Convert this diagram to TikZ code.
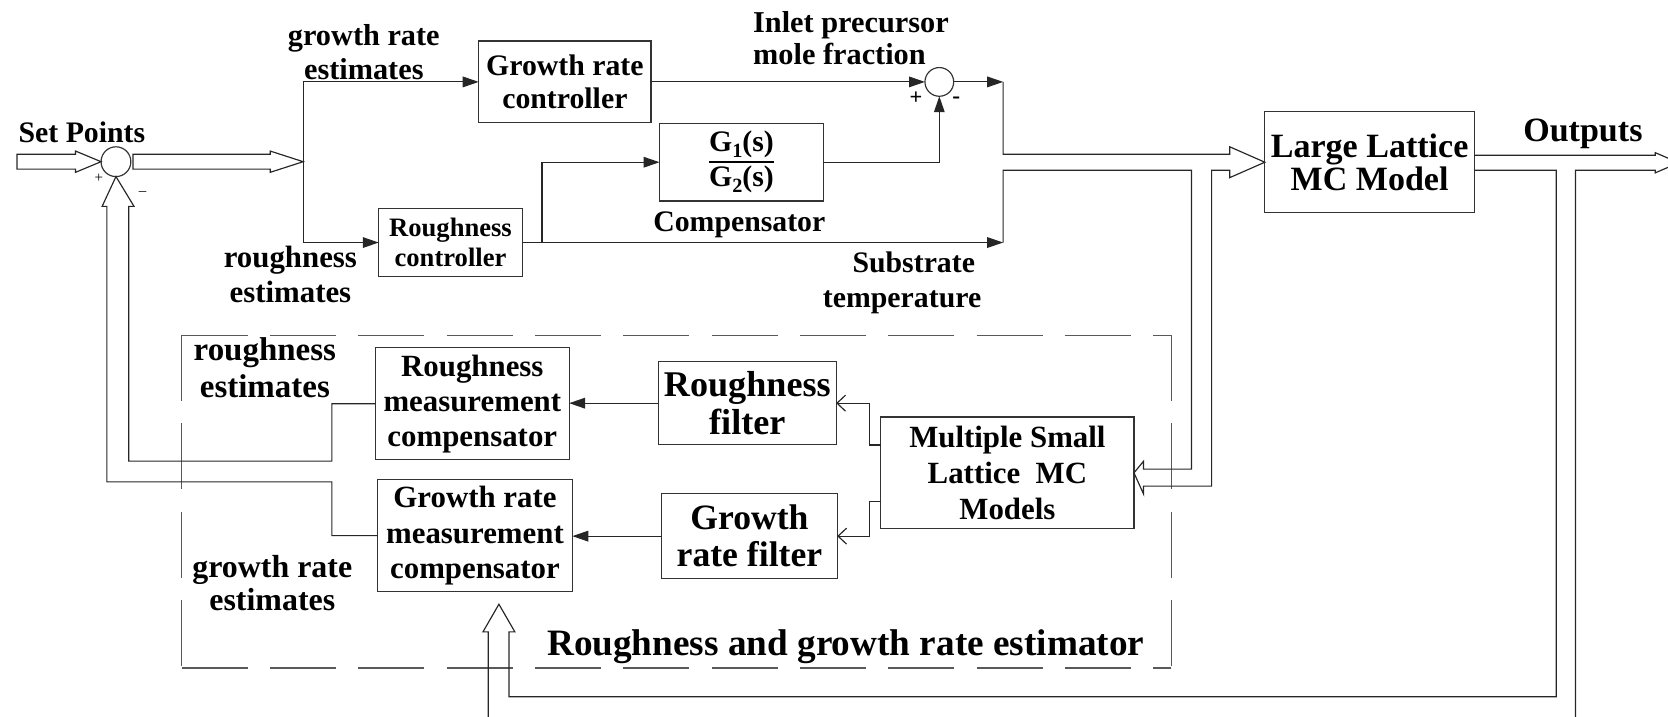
\documentclass[tikz,border=0pt]{standalone}
\usepackage{fontspec}
\setmainfont{Liberation Serif}
\usetikzlibrary{arrows.meta,calc}
\newcommand{\myfs}[2]{\fontsize{#1pt}{#2pt}\selectfont\bfseries}
\newcommand{\subn}[1]{\raisebox{-6pt}{\fontsize{19pt}{19pt}\selectfont #1}}
\begin{document}
\begin{tikzpicture}[x=1pt,y=-1pt,
  line width=1.1pt, draw=black!85,
  every node/.style={inner sep=0pt, outer sep=0pt},
  blk/.style={draw=black!80, line width=1.1pt, align=center},
  lbl/.style={align=center},
  sumc/.style={draw=black!80, line width=1.1pt, circle, minimum size=28pt},
  tri/.style={-{Triangle[length=15pt,width=10pt]}},
  barb/.style={-{Straight Barb[length=8pt,width=15pt]}},
  dbl/.style={draw=black!85, line width=1.1pt, line join=miter},
  estbox/.style={draw=black!65, line width=1.1pt, dash pattern=on 62pt off 21pt},
]
\useasboundingbox (0,0) rectangle (1568,674);

% summing junctions
\node[sumc] (sum1) at (109,152) {};
\node[sumc, minimum size=27pt] (sum2) at (883,77) {};

% blocks
\node[blk, minimum width=162pt, minimum height=77pt, font=\myfs{28}{31}] (grc) at (531,77) {Growth rate\\controller};
\node[blk, minimum width=154pt, minimum height=73pt, font=\myfs{28}{31}] (comp) at (697,152.5)
  {\setlength{\arrayrulewidth}{1.6pt}\renewcommand{\arraystretch}{1.0}\begin{tabular}{@{}c@{}}G\subn{1}(s)\\\hline G\subn{2}(s)\end{tabular}};
\node[blk, minimum width=135pt, minimum height=64.5pt, font=\myfs{25}{28}] (rc) at (423.5,228) {Roughness\\controller};
\node[blk, minimum width=197pt, minimum height=95pt, font=\myfs{32}{31.5}] (llmc) at (1287.5,152.5) {Large Lattice\\MC Model};
\node[blk, minimum width=182pt, minimum height=105pt, font=\myfs{29}{33}] (rmc) at (444,379.5) {Roughness\\measurement\\compensator};
\node[blk, minimum width=183pt, minimum height=105pt, font=\myfs{29}{33}] (grmc) at (446.5,503.5) {Growth rate\\measurement\\compensator};
\node[blk, minimum width=167pt, minimum height=78pt, font=\myfs{34}{36}] (rf) at (702.5,379) {Roughness\\filter};
\node[blk, minimum width=165pt, minimum height=80pt, font=\myfs{33.5}{35}] (grf) at (704.5,504) {Growth\\rate filter};
\node[blk, minimum width=238pt, minimum height=105pt, font=\myfs{29}{34}] (msl) at (947,444.5) {Multiple Small\\Lattice~ MC\\Models};

% labels
\node[lbl, font=\myfs{28}{30}, anchor=base] (setp) at (77,134) {Set Points};
\node[lbl, font=\myfs{28.5}{32}] (gre1) at (342,49) {growth rate\\estimates};
\node[lbl, font=\myfs{29}{33}] (rge1) at (273,258) {roughness\\estimates};
\node[align=left, anchor=west, font=\myfs{28.5}{30}] (inlet) at (708,36) {Inlet precursor\\mole fraction};
\node[lbl, font=\myfs{28}{30}] (compl) at (695,211) {Compensator};
\node[lbl, font=\myfs{28}{33}] (subst) at (848,266) {\hspace*{22pt}Substrate\\temperature};
\node[lbl, font=\myfs{32}{32}] (outl) at (1488,126) {Outputs};
\node[lbl, font=\myfs{31}{35}] (rge2) at (249,346) {roughness\\estimates};
\node[lbl, font=\myfs{30}{31}] (gre2) at (256,548) {growth rate\\estimates};
\node[lbl, font=\myfs{35}{36}, anchor=base] (estl) at (795,616) {Roughness and growth rate estimator};

% signs
\node[font=\fontsize{14pt}{14pt}\selectfont] (p1) at (93,168) {+};
\node[font=\fontsize{14pt}{14pt}\selectfont] (m1) at (134,182) {--};
\node[font=\myfs{21}{21}] (p2) at (861,92) {+};
\node[font=\myfs{22}{22}] (m2) at (899,94) {-};

% estimator dashed box (each side dashed from its corner)
\draw[estbox] (171,315) -- (1101,315);
\draw[estbox] (171,315) -- (171,628);
\draw[estbox] (171,628) -- (1101,628);
\draw[estbox] (1101,315) -- (1101,628);

% named coordinates
\coordinate (jin) at (285,152);
\coordinate (j1) at (943,77);
\coordinate (j2) at (943,228);
\coordinate (br) at (509.5,228);
\coordinate (fbtip) at (469,568);

% input double arrow
\draw[dbl] (16,145) -- (71,145) -- (71,142) -- (sum1.west) -- (71,162) -- (71,159) -- (16,159) -- cycle;
% sum1 output double arrow
\draw[dbl] (125,145) -- (254,145) -- (254,142) -- (jin) -- (254,162) -- (254,159) -- (125,159) -- cycle;

% top controller connectors
\draw[tri] (jin) |- (grc.west);
\draw[tri] (jin) |- (rc.west);
\draw[tri] (grc.east) -- (sum2.west);
\draw[tri] (sum2.east) -- (j1);
\draw[tri] (rc.east) -- (j2);
\draw[tri] (br) |- (comp.west);
\draw[tri] (comp.east) -| (sum2.south);

% main double arrow to large lattice model with branch to small models
\draw[dbl] (j1) -- (943,145) -- (1156,145) -- (1156,138) -- (llmc.west) -- (1156,167) -- (1156,160)
  -- (1139,160) -- (1139,457) -- (1075,457) -- (1075,464.5) -- (msl.east) -- (1075,433.5) -- (1075,441)
  -- (1120,441) -- (1120,160) -- (943,160) -- (j2);

% output double arrow and feedback to estimator
\draw[dbl] (1386,146) -- (1556,146) -- (1556,143.5) -- (1578,153) -- (1556,162.5) -- (1556,160)
  -- (1481,160) -- (1481,700) -- (459,700) -- (459,594) -- (454,594) -- (fbtip) -- (484,594)
  -- (478.5,594) -- (478.5,655) -- (1463,655) -- (1463,160) -- (1386,160);

% estimator internal connectors
\draw[barb] ($(msl.north west)!0.25!(msl.south west)$) -- ++(-11,0) |- (rf.east);
\draw[barb] ($(msl.north west)!0.76!(msl.south west)$) -- ++(-11,0) |- (grf.east);
\draw[tri] (rf.west) -- (rf.west -| rmc.east);
\draw[tri] (grf.west) -- (grf.west -| grmc.east);

% feedback double arrow to sum1
\draw[dbl] (rmc.west) -- (312,379.5) -- (312,433.5) -- (121,433.5) -- (121,194) -- (126,194) -- (sum1.south)
  -- (96,194) -- (100.5,194) -- (100.5,453) -- (312,453) -- (312,503.5) -- (grmc.west);
\end{tikzpicture}
\end{document}
